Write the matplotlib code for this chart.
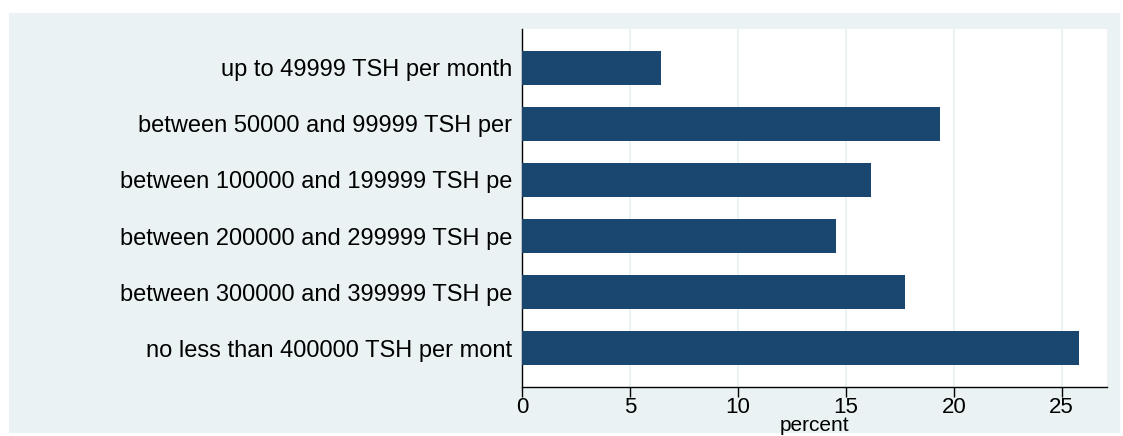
import matplotlib.pyplot as plt
from matplotlib.patches import Rectangle

# income categories (top to bottom) and their share in percent
categories = [
    "up to 49999 TSH per month",
    "between 50000 and 99999 TSH per",
    "between 100000 and 199999 TSH pe",
    "between 200000 and 299999 TSH pe",
    "between 300000 and 399999 TSH pe",
    "no less than 400000 TSH per mont",
]
percent = [6.45, 19.35, 16.15, 14.55, 17.75, 25.8]
ticks = [0, 5, 10, 15, 20, 25]

bg = "#EAF2F3"
bar_color = "#1A476F"

plt.rcParams["font.family"] = ["Liberation Sans", "DejaVu Sans"]

fig = plt.figure(figsize=(11.23, 4.36), dpi=100, facecolor="white")
#outer graph region
fig.patches.append(Rectangle((0.008, 0.007), 0.989, 0.963, transform=fig.transFigure,
                             facecolor=bg, edgecolor="none", zorder=-10))

ax = fig.add_axes([0.4648, 0.1124, 0.9858 - 0.4648, 0.9335 - 0.1124])
ax.set_zorder(5)
ax.set_facecolor("white")

pos = list(range(len(categories)))
ax.barh(pos, percent, height=0.6, color=bar_color, zorder=3)

ax.set_ylim(len(categories) - 1 + 0.69, -0.69)
ax.set_xlim(0, 27.1)
ax.set_yticks(pos)
ax.set_yticklabels(categories, fontsize=17)
ax.set_xticks(ticks)
ax.set_xticklabels([str(t) for t in ticks], fontsize=16)

#vertical grid lines, same tone as the background
for t in ticks[1:]:
    ax.axvline(t, color=bg, lw=1.5, zorder=1)

ax.tick_params(axis="y", length=0, pad=7)
ax.tick_params(axis="x", length=7, width=1, pad=0, color="black")
for s in ["top", "right"]:
    ax.spines[s].set_visible(False)
ax.spines["left"].set_linewidth(1)
ax.spines["bottom"].set_linewidth(1)

ax.set_xlabel("percent", fontsize=15, va="center")
ax.xaxis.set_label_coords(0.5, -0.108)

fig.savefig("out.png", dpi=100, facecolor="white")
